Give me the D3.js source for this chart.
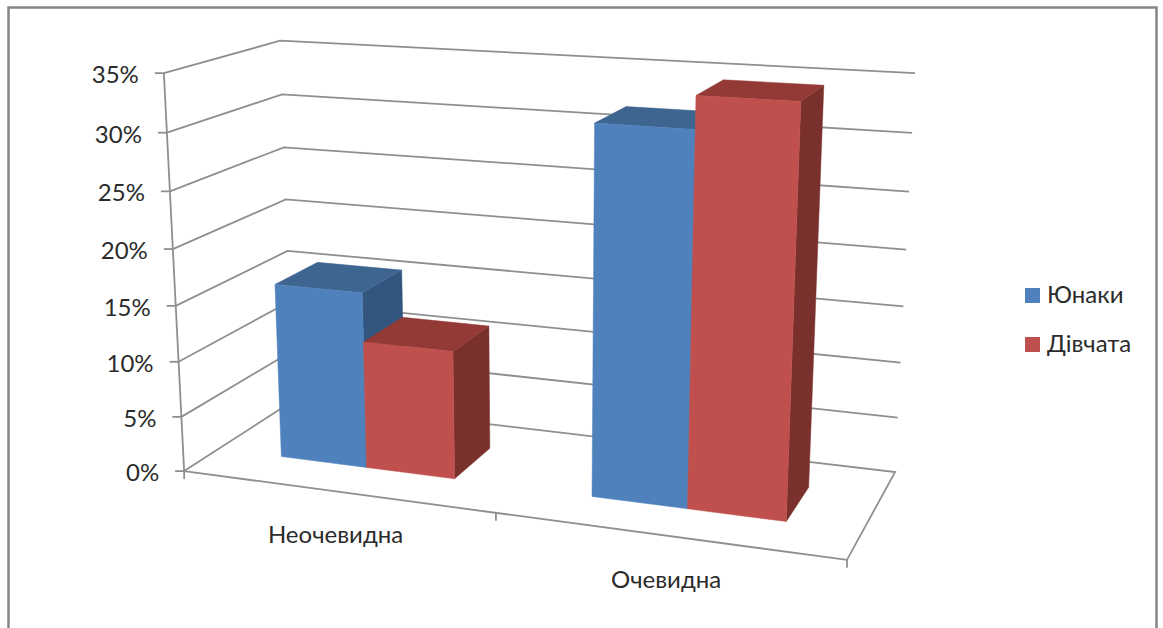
<!DOCTYPE html>
<html>
<head>
<meta charset="utf-8">
<script src="https://cdnjs.cloudflare.com/ajax/libs/d3/7.8.5/d3.min.js"></script>
<style>
  html, body { margin: 0; background: #fff; }
  svg { display: block; }
  text { font-family: Lato, "Open Sans", "Noto Sans", sans-serif; fill: #2b2b2b; }
</style>
</head>
<body>
<svg id="chart" width="1163" height="628"></svg>
<script>
// Chart data
const categories = ["Неочевидна", "Очевидна"];
const seriesNames = ["Юнаки", "Дівчата"];
const boysValues = [15.9, 31.9];
const girlsValues = [11.5, 34.6];
const yTicks = [0, 5, 10, 15, 20, 25, 30, 35];

// Colours for each series: front, top, side faces
const faceColors = {
  "Юнаки": { front: "#4f81bd", top: "#3e6490", side: "#33567f" },
  "Дівчата": { front: "#c0504d", top: "#933a37", side: "#7a302d" }
};
const axisColor = "#8f8f8f";

// Plot box corners on screen, keyed by normalised [x, y, z]; y is height, z is depth
const boxAnchors = [
  [[0, 0, 0], [184, 472]],
  [[1, 0, 0], [847, 559]],
  [[0, 0, 1], [293, 400]],
  [[1, 0, 1], [895, 473]],
  [[0, 1, 0], [164, 73]],
  [[0, 1, 1], [280, 41]],
  [[1, 1, 1], [915, 73]]
];

// Least-squares fit of a perspective camera to the box corners
function fitCamera(anchors) {
  const rows = [], rhs = [];
  anchors.forEach(([[x, y, z], [sx, sy]]) => {
    rows.push([1, x, y, z, 0, 0, 0, 0, -sx * x, -sx * y, -sx * z]); rhs.push(sx);
    rows.push([0, 0, 0, 0, 1, x, y, z, -sy * x, -sy * y, -sy * z]); rhs.push(sy);
  });
  const n = 11;
  const A = d3.range(n).map(i => d3.range(n + 1).map(j =>
    j < n ? d3.sum(rows, r => r[i] * r[j]) : d3.sum(rows, (r, k) => r[i] * rhs[k])));
  for (let c = 0; c < n; c++) {
    let p = c;
    for (let r = c + 1; r < n; r++) if (Math.abs(A[r][c]) > Math.abs(A[p][c])) p = r;
    [A[c], A[p]] = [A[p], A[c]];
    for (let r = 0; r < n; r++) {
      if (r === c) continue;
      const f = A[r][c] / A[c][c];
      for (let k = c; k <= n; k++) A[r][k] -= f * A[c][k];
    }
  }
  return A.map((row, i) => row[n] / row[i]);
}
const cam = fitCamera(boxAnchors);

// Projects a normalised box position to the screen
function project(x, y, z) {
  const w = 1 + cam[8] * x + cam[9] * y + cam[10] * z;
  return [
    (cam[0] + cam[1] * x + cam[2] * y + cam[3] * z) / w,
    (cam[4] + cam[5] * x + cam[6] * y + cam[7] * z) / w
  ];
}

// Scales into the normalised box
const yScale = d3.scaleLinear().domain([0, 35]).range([0, 1]);
const xScale = d3.scaleBand().domain(categories).range([0, 1]);
const seriesScale = d3.scaleBand().domain(seriesNames).range([0, xScale.bandwidth()])
  .paddingInner(0).paddingOuter(0.75);
const zScale = d3.scaleLinear().domain([0, 1]).range([0.3, 0.7]);

const svg = d3.select("#chart");
const pathOf = d3.line();

// Outer chart frame
svg.append("rect")
  .attr("x", 8.5).attr("y", 7.5).attr("width", 1148).attr("height", 640)
  .attr("fill", "#fff").attr("stroke", "#868686").attr("stroke-width", 2.5);

// Wall gridlines: along the left wall, then the back wall
const grid = svg.append("g").attr("fill", "none").attr("stroke", axisColor).attr("stroke-width", 1.8);
yTicks.slice(1).forEach(t => {
  const y = yScale(t);
  grid.append("path").attr("d", pathOf([project(0, y, 0), project(0, y, 1), project(1, y, 1)]));
});

// Floor outline
grid.append("path").attr("d", pathOf([
  project(0, 0, 0), project(0, 0, 1), project(1, 0, 1), project(1, 0, 0), project(0, 0, 0)
]));

// Value axis with ticks and labels
grid.append("path").attr("d", pathOf([project(0, 0, 0), project(0, 1, 0)]));
yTicks.forEach(t => {
  const [px, py] = project(0, yScale(t), 0);
  grid.append("path").attr("d", pathOf([[px - 9, py], [px, py]]));
  svg.append("text")
    .attr("x", px - 25).attr("y", py + 10)
    .attr("text-anchor", "end").attr("font-size", 24)
    .text(t + "%");
});

// Category axis ticks below the front floor edge
xScale.domain().concat(["end"]).forEach((c, i) => {
  const [px, py] = project(i * xScale.bandwidth(), 0, 0);
  grid.append("path").attr("d", pathOf([[px, py], [px, py + 8]]));
});

// Bars, drawn back to front: side, top, then front face
const valuesBySeries = { "Юнаки": boysValues, "Дівчата": girlsValues };
const bars = svg.append("g");
categories.forEach((cat, ci) => {
  seriesNames.forEach(name => {
    const x0 = xScale(cat) + seriesScale(name);
    const x1 = x0 + seriesScale.bandwidth();
    const h = yScale(valuesBySeries[name][ci]);
    const z0 = zScale(0), z1 = zScale(1);
    const colors = faceColors[name];
    const faces = [
      [colors.side, [project(x1, 0, z0), project(x1, 0, z1), project(x1, h, z1), project(x1, h, z0)]],
      [colors.top, [project(x0, h, z0), project(x0, h, z1), project(x1, h, z1), project(x1, h, z0)]],
      [colors.front, [project(x0, 0, z0), project(x1, 0, z0), project(x1, h, z0), project(x0, h, z0)]]
    ];
    faces.forEach(([fill, pts]) => {
      bars.append("path").attr("d", pathOf(pts) + "Z").attr("fill", fill)
        .attr("stroke", fill).attr("stroke-width", 0.5);
    });
  });
});

// Category labels sit under the front edge
categories.forEach((cat, i) => {
  const [px, py] = project(xScale(cat) + xScale.bandwidth() * 0.5, 0, 0);
  svg.append("text")
    .attr("x", px).attr("y", py + 52)
    .attr("text-anchor", "middle").attr("font-size", 24)
    .text(cat);
});

// Legend
const legend = svg.append("g");
const legendY = d3.scalePoint().domain(seriesNames).range([288, 337]);
seriesNames.forEach(name => {
  legend.append("rect")
    .attr("x", 1025).attr("y", legendY(name)).attr("width", 15).attr("height", 15)
    .attr("fill", faceColors[name].front);
  legend.append("text")
    .attr("x", 1047).attr("y", legendY(name) + 15).attr("font-size", 24)
    .text(name);
});
</script>
</body>
</html>
